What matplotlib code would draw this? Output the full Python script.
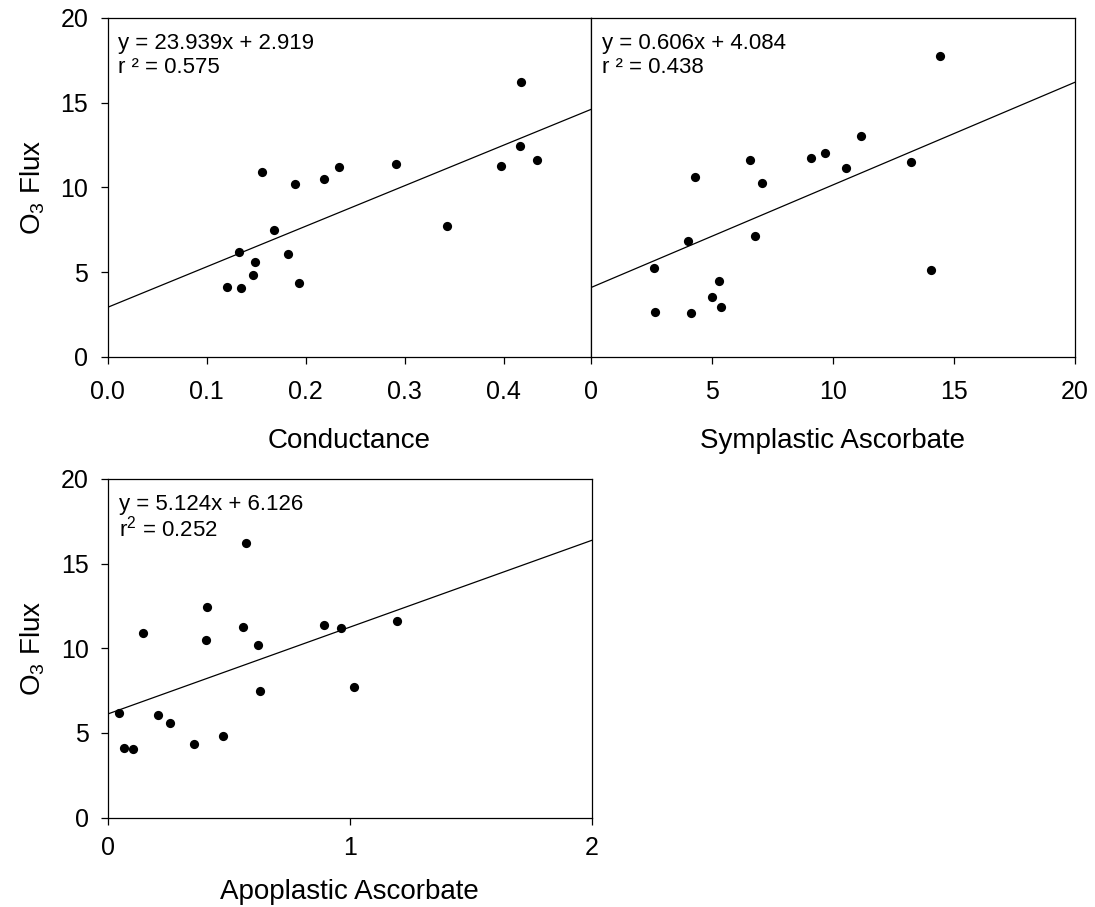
import matplotlib
matplotlib.use('Agg')
import matplotlib.pyplot as plt
import numpy as np

plt.rcParams['font.family'] = ['Liberation Sans', 'DejaVu Sans']
plt.rcParams['mathtext.fontset'] = 'custom'
plt.rcParams['mathtext.rm'] = 'Liberation Sans'
plt.rcParams['mathtext.it'] = 'Liberation Sans'

# O3 flux against leaf conductance and ascorbate pools
conductance = [0.417, 0.416, 0.433, 0.397, 0.291, 0.234, 0.218, 0.189, 0.156,
               0.343, 0.168, 0.133, 0.182, 0.149, 0.147, 0.120, 0.135, 0.193]
apoplastic = [0.571, 0.411, 1.194, 0.560, 0.895, 0.964, 0.404, 0.622, 0.143,
              1.017, 0.629, 0.045, 0.205, 0.256, 0.477, 0.068, 0.102, 0.357]
flux = [16.2, 12.44, 11.63, 11.28, 11.36, 11.2, 10.47, 10.2, 10.88,
        7.72, 7.48, 6.16, 6.08, 5.57, 4.8, 4.13, 4.07, 4.37]

symplastic = [14.44, 11.16, 9.67, 9.09, 6.57, 13.22, 10.54, 4.31, 7.05,
              6.79, 4.01, 2.60, 14.04, 5.29, 5.0, 5.36, 2.66, 4.13]
flux_sym = [17.75, 13.05, 12.04, 11.71, 11.59, 11.48, 11.12, 10.59, 10.23,
            7.14, 6.85, 5.22, 5.12, 4.45, 3.51, 2.95, 2.66, 2.58]

# regression coefficients (slope, intercept, r2)
fit_cond = (23.939, 2.919, 0.575)
fit_sym = (0.606, 4.084, 0.438)
fit_apo = (5.124, 6.126, 0.252)

fig = plt.figure(figsize=(10.95, 9.07), dpi=100)
ax1 = fig.add_axes([0.0984, 0.6067, 0.4413, 0.3735])
ax2 = fig.add_axes([0.5397, 0.6067, 0.4420, 0.3735])
ax3 = fig.add_axes([0.0986, 0.0985, 0.4417, 0.3734])


def panel(ax, x, y, fit, xlim, xticks, xticklabels, xlabel, r2_text,
          ylabels=True, xpad=12, xlabelpad=17):
    slope, icpt, r2 = fit
    xx = np.array(xlim)
    ax.plot(xx, slope * xx + icpt, color='black', lw=0.9, zorder=2)
    ax.scatter(x, y, s=44, color='black', zorder=3, linewidths=0)
    ax.set_xlim(xlim)
    ax.set_ylim(0, 20)
    ax.set_xticks(xticks)
    ax.set_xticklabels(xticklabels)
    ax.set_yticks([0, 5, 10, 15, 20])
    ax.tick_params(direction='out', length=5, width=0.9, labelsize=18, pad=9)
    ax.tick_params(axis='x', pad=xpad)
    if ylabels:
        ax.set_ylabel('O$_\\mathregular{3}$ Flux', fontsize=20, labelpad=10)
    else:
        ax.tick_params(axis='y', left=False, labelleft=False)
    ax.set_xlabel(xlabel, fontsize=20, labelpad=xlabelpad)
    for s in ax.spines.values():
        s.set_linewidth(0.9)
    ax.text(0.022, 0.925, 'y = %.3fx + %.3f' % (slope, icpt), transform=ax.transAxes,
            fontsize=16, va='center', ha='left')
    ax.text(0.022, 0.853, r2_text % r2, transform=ax.transAxes,
            fontsize=16, va='center', ha='left')


panel(ax1, conductance, flux, fit_cond, (0, 0.488), [0, 0.1, 0.2, 0.3, 0.4],
      ['0.0', '0.1', '0.2', '0.3', '0.4'], 'Conductance', 'r \u00b2 = %.3f')
panel(ax2, symplastic, flux_sym, fit_sym, (0, 20), [0, 5, 10, 15, 20],
      ['0', '5', '10', '15', '20'], 'Symplastic Ascorbate', 'r \u00b2 = %.3f',
      ylabels=False)
panel(ax3, apoplastic, flux, fit_apo, (0, 2), [0, 1, 2],
      ['0', '1', '2'], 'Apoplastic Ascorbate', 'r$^\\mathregular{2}$ = %.3f',
      xpad=8, xlabelpad=14)

fig.savefig('out.png', dpi=100)
